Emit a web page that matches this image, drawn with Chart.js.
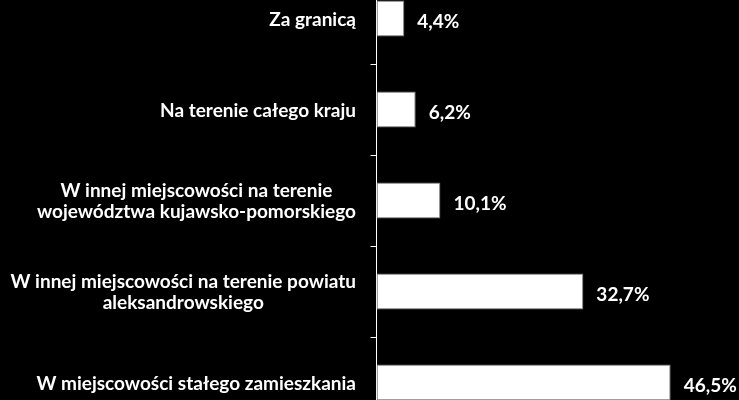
<!DOCTYPE html>
<html>
<head>
<meta charset="utf-8">
<script src="https://cdn.jsdelivr.net/npm/chart.js@4/dist/chart.umd.min.js"></script>
<style>
  html, body { margin: 0; padding: 0; background: #000; overflow: hidden; }
  #wrap { position: absolute; left: 0; top: -27px; width: 739px; height: 455px; }
</style>
</head>
<body>
<div id="wrap"><canvas id="c"></canvas></div>
<script>
const categories = [
  ["Za granicą"],
  ["Na terenie całego kraju"],
  ["W innej miejscowości na terenie", "województwa kujawsko-pomorskiego"],
  ["W innej miejscowości na terenie powiatu", "aleksandrowskiego"],
  ["W miejscowości stałego zamieszkania"]
];
const values = [4.4, 6.2, 10.1, 32.7, 46.5];
const valueLabels = ["4,4%", "6,2%", "10,1%", "32,7%", "46,5%"];

const FONT = "bold 19px Lato";

const labelPlugin = {
  id: 'customLabels',
  afterDraw(chart) {
    const ctx = chart.ctx;
    const yScale = chart.scales.y;
    ctx.save();
    ctx.fillStyle = '#fff';
    ctx.font = FONT;
    ctx.textBaseline = 'middle';
    ctx.textAlign = 'center';
    const right = 356;
    const lh = 20.5;
    categories.forEach((lines, i) => {
      const yc = yScale.getPixelForValue(i);
      let w = 0;
      lines.forEach(l => { w = Math.max(w, ctx.measureText(l).width); });
      const xc = right - w / 2;
      const start = yc - (lines.length - 1) * lh / 2 + 1;
      lines.forEach((l, k) => ctx.fillText(l, xc, start + k * lh));
    });
    const meta = chart.getDatasetMeta(0);
    ctx.textAlign = 'left';
    meta.data.forEach((bar, i) => {
      ctx.fillText(valueLabels[i], bar.x + 13, bar.y + 3);
    });
    ctx.restore();
  }
};

new Chart(document.getElementById('c'), {
  type: 'bar',
  data: {
    labels: categories,
    datasets: [{
      data: values,
      backgroundColor: '#ffffff',
      borderColor: '#7f7f7f',
      borderWidth: 1,
      borderSkipped: false,
      categoryPercentage: 1,
      barPercentage: 0.396
    }]
  },
  options: {
    indexAxis: 'y',
    responsive: true,
    maintainAspectRatio: false,
    animation: false,
    layout: { padding: { left: 0, right: 0, top: 0, bottom: 0 } },
    plugins: { legend: { display: false }, tooltip: { enabled: false } },
    scales: {
      x: {
        display: false,
        min: 0,
        max: 57.3
      },
      y: {
        offset: true,
        ticks: { display: false },
        grid: {
          offset: true,
          drawOnChartArea: false,
          drawTicks: true,
          tickLength: 6,
          color: '#ffffff',
          lineWidth: 1
        },
        border: { display: true, color: '#ffffff', width: 1 },
        afterFit(scale) { scale.width = 376.5; }
      }
    }
  },
  plugins: [labelPlugin]
});
</script>
</body>
</html>
